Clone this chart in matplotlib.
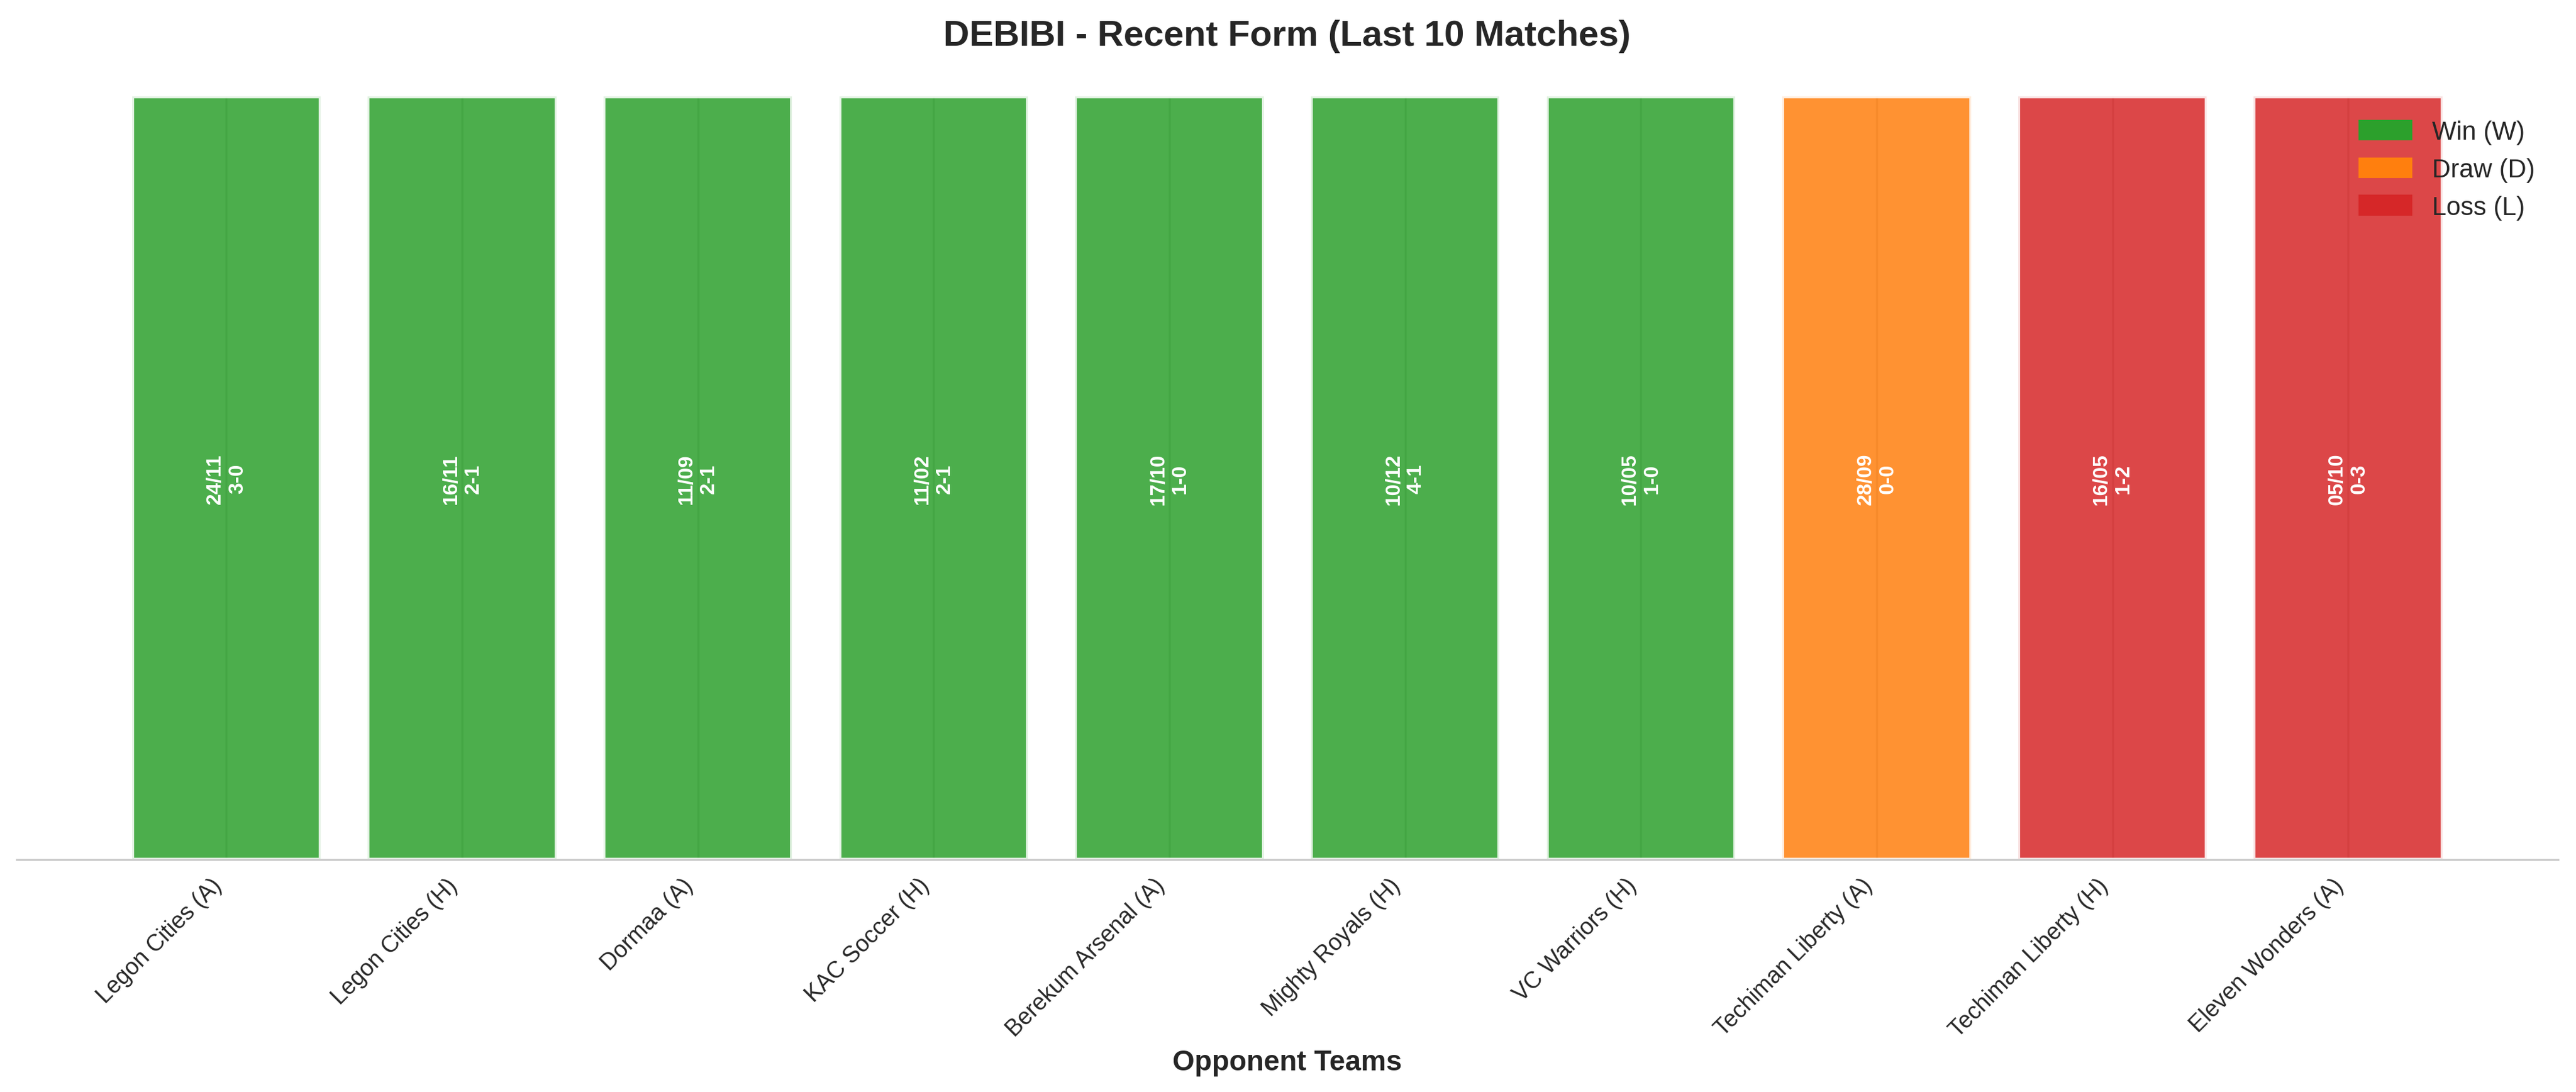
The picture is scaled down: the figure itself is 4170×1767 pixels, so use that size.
import matplotlib
matplotlib.use("Agg")
import matplotlib.pyplot as plt
import matplotlib.patches as mpatches
import seaborn as sns

# Recent form data
opponents = ["Legon Cities (A)", "Legon Cities (H)", "Dormaa (A)", "KAC Soccer (H)",
             "Berekum Arsenal (A)", "Mighty Royals (H)", "VC Warriors (H)",
             "Techiman Liberty (A)", "Techiman Liberty (H)", "Eleven Wonders (A)"]
dates = ["24/11", "16/11", "11/09", "11/02", "17/10", "10/12", "10/05", "28/09", "16/05", "05/10"]
scores = ["3-0", "2-1", "2-1", "2-1", "1-0", "4-1", "1-0", "0-0", "1-2", "0-3"]
results = ["W", "W", "W", "W", "W", "W", "W", "D", "L", "L"]

result_colors = {"W": "#2ca02c", "D": "#ff7f0e", "L": "#d62728"}
result_names = {"W": "Win (W)", "D": "Draw (D)", "L": "Loss (L)"}

sns.set_style("whitegrid")
plt.rcParams['font.family'] = ['Liberation Sans', 'DejaVu Sans']

fig = plt.figure(figsize=(13.9, 5.893), dpi=300)
ax = fig.add_axes([0.0064, 0.2124, 0.9866, 0.6986])

x = list(range(len(opponents)))
colors = [result_colors[r] for r in results]
bars = ax.bar(x, [1] * len(x), color=colors, alpha=0.85, edgecolor="white", linewidth=1.5, width=0.8)

for i, bar in enumerate(bars):
    ax.text(bar.get_x() + bar.get_width() / 2, 0.5, f"{dates[i]}\n{scores[i]}",
            ha="center", va="center", rotation=90, color="white",
            fontsize=8, fontweight="bold")

ax.set_ylim(0, 1)
ax.set_xticks(x)
ax.set_xticklabels(opponents, rotation=45, ha="right", fontsize=9)
ax.tick_params(axis="x", pad=2)
ax.set_yticks([])
ax.grid(axis="y", visible=False)
ax.set_xlabel("Opponent Teams", fontsize=11, fontweight="bold", labelpad=3)
ax.set_title("DEBIBI - Recent Form (Last 10 Matches)", fontsize=14, fontweight="bold", pad=20)

for side in ["top", "right", "left"]:
    ax.spines[side].set_visible(False)
ax.spines["bottom"].set_color("#cccccc")

handles = [mpatches.Patch(color=result_colors[k], label=result_names[k]) for k in ["W", "D", "L"]]
ax.legend(handles=handles, loc="upper right", frameon=False, fontsize=10)

fig.savefig("out.png", dpi=300)
